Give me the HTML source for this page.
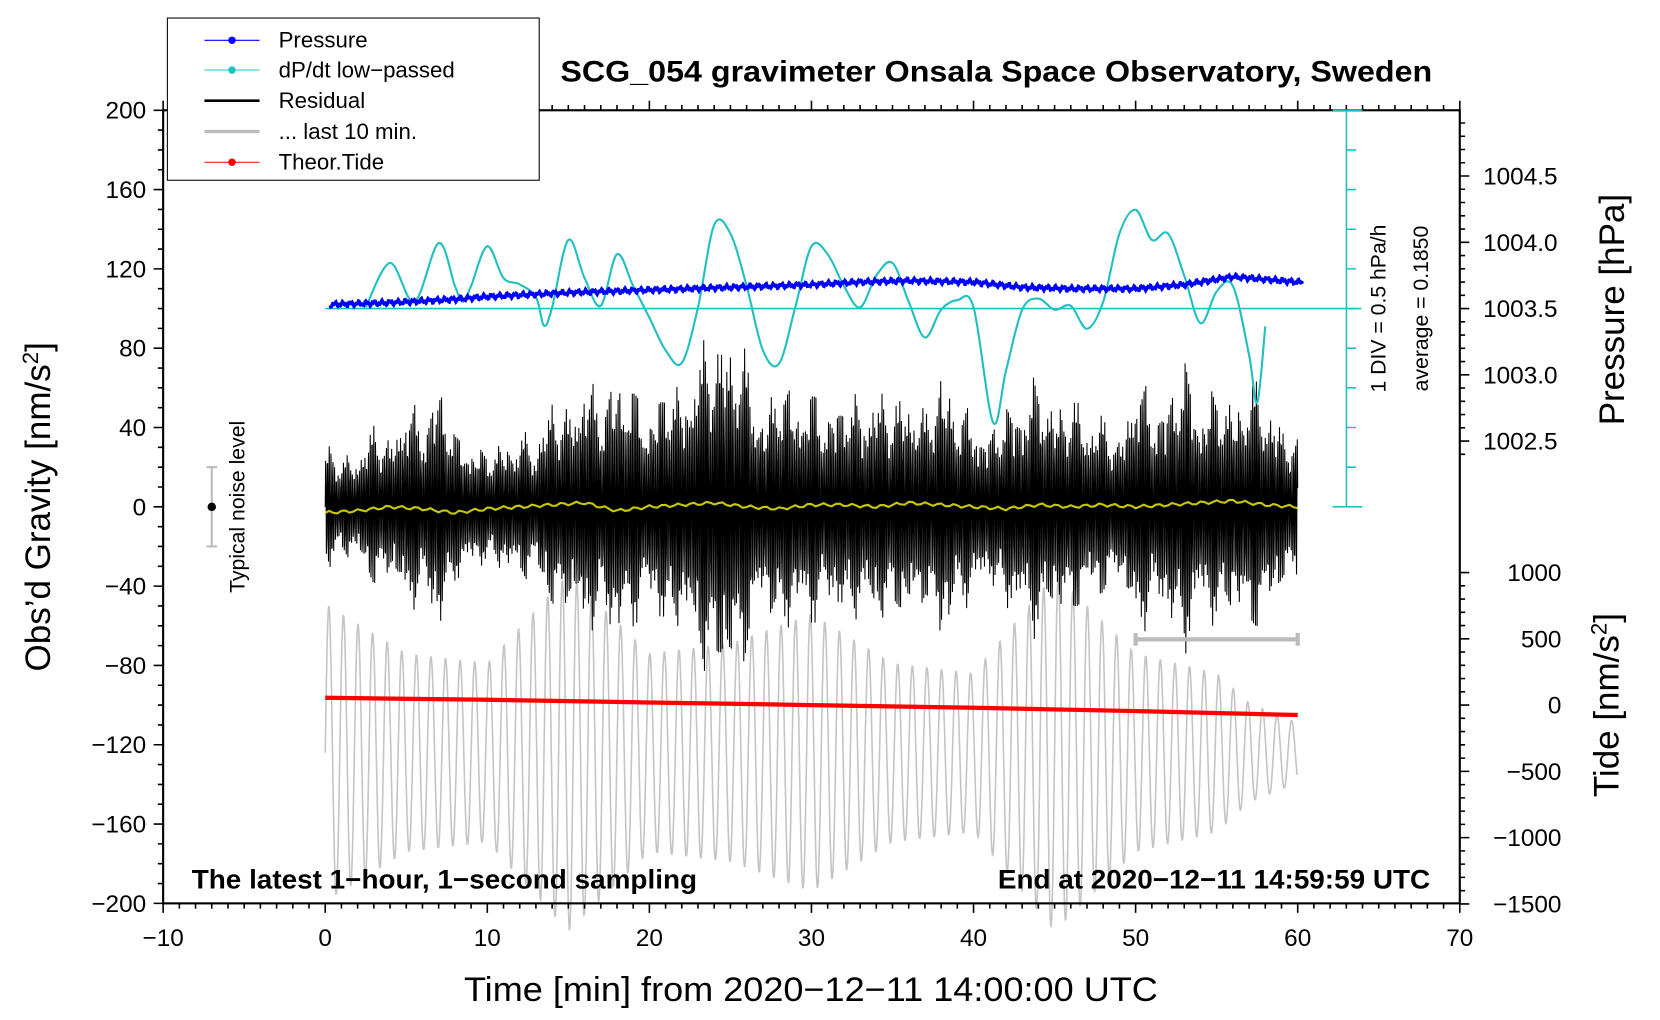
<!DOCTYPE html>
<html><head><meta charset="utf-8"><style>
html,body{margin:0;padding:0;background:#fff}
svg{display:block}
text{font-family:"Liberation Sans",sans-serif}
</style></head><body>
<svg id="chart" width="1660" height="1020" viewBox="0 0 1567 962" preserveAspectRatio="none" xmlns="http://www.w3.org/2000/svg" style="position:absolute;left:0;top:0">
<g id="layer-bg"></g>
<g id="layer-data"></g>
<g id="layer-axes"></g>
</svg>
<script>
// ---- data ----
const pressMin=[0,3,5,8,10,15,20,25,30,33,36,40,43,46,50,53,56,58,60];
const pressVal=[1003.53,1003.54,1003.55,1003.57,1003.59,1003.62,1003.64,1003.66,1003.68,1003.70,1003.71,1003.70,1003.66,1003.65,1003.65,1003.68,1003.74,1003.72,1003.70];
const dpMin=[2.5,4,5.5,7,8,8.5,9,10,11,12,13,13.5,14,15,16,17,18,19,20,21,22,23,24,25,26,27,28,29,30,31,32,33,34,35,36,37,38,39,40,41.2,42,43,44,45,46,47,48,49,50,51,52,53,54,55,56,57,57.5,58];
const dpVal=[0.2,0.76,0.27,1.01,0.47,0.27,0.47,0.97,0.57,0.49,0.33,-0.03,0.2,1.05,0.57,0.22,0.87,0.47,0.07,-0.34,-0.5,0.2,1.24,1.13,0.47,-0.34,-0.51,0.2,0.97,0.87,0.47,0.2,0.6,0.76,0.27,-0.18,0.17,0.29,0.2,-1.25,-0.6,0.17,0.31,0.17,0.22,-0.07,0.27,1.13,1.43,1.05,1.13,0.6,0.0,0.4,0.47,-0.4,-1.0,-0.04];
const resAmp=[40,25,30,45,35,60,45,70,40,35,30,35,40,35,60,50,75,55,75,65,50,70,60,85,90,95,80,50,70,60,65,50,65,55,65,55,65,50,75,55,50,40,55,60,70,55,60,50,50,35,75,55,60,80,55,65,55,70,60,45,35];
const trendMin=[0,2,4,6,8,10,12,14,16,18,20,22,24,26,28,30,32,34,36,38,40,42,44,46,48,50,52,54,56,58,60];
const trendVal=[-3,-2,0,-1,-3,-1,0,1,2,-2,0,1,2,0,-1,1,1,0,2,1,0,-1,1,0,1,0,1,2,3,1,0];
const grayMin=[0,5,10,15,20,25,30,35,40,45,50,55,57,60];
const grayAmp=[75,50,45,90,50,55,70,45,40,90,50,40,25,15];
const tideMin=[0,10,20,30,40,50,60];
const tideVal=[55,40,20,0,-20,-45,-75];
const xTicks=[-10,0,10,20,30,40,50,60,70];
const gTicks=[200,160,120,80,40,0,-40,-80,-120,-160,-200];
const pTicks=[1004.5,1004.0,1003.5,1003.0,1002.5];
const tTicks=[1000,500,0,-500,-1000,-1500];
// ---- scales ----
const L=154,R=1378,T=104,B=852;
const X=m=>L+(m+10)*(R-L)/80;
const G=v=>478-v*1.87;
const P=v=>291-(v-1003.5)*125;
const TD=v=>665-v*0.125;
const DP=v=>291-(v-0.185)/0.5*37.4;
const NS="http://www.w3.org/2000/svg";
function mk(tag,attrs,parent,name,inter){const e=document.createElementNS(NS,tag);for(const k in attrs)e.setAttribute(k,attrs[k]);


parent.appendChild(e);return e;}
function interp(xs,ys,x){if(x<=xs[0])return ys[0];for(let i=1;i<xs.length;i++){if(x<=xs[i]){const f=(x-xs[i-1])/(xs[i]-xs[i-1]);return ys[i-1]+f*(ys[i]-ys[i-1]);}}return ys[ys.length-1];}
const data=document.getElementById('layer-data');
const axes=document.getElementById('layer-axes');
let d='';for(let t=0;t<=60;t+=0.03){const a=interp(grayMin,grayAmp,t);const v=-124+a*Math.sin(2*Math.PI*t/0.9);d+=(d?'L':'M')+X(t).toFixed(1)+','+Math.max(G(v),0).toFixed(1);}
mk('path',{d:d,fill:'none',stroke:'#c4c4c4','stroke-width':1.5},data,'last-10-min-series');
d='';for(let t=0;t<=60;t+=0.025){const a=interp(resAmp.map((_,i)=>i),resAmp,t);const m=Math.abs(Math.sin(2*Math.PI*t/1.7)*Math.cos(t*2.3));const v=a*Math.sin(2*Math.PI*t/0.11)*(0.55+0.45*m);d+=(d?'L':'M')+X(t).toFixed(1)+','+G(v).toFixed(1);}
mk('path',{d:d,fill:'none',stroke:'#000','stroke-width':1},data,'residual-series');
d='';for(let t=0;t<=60;t+=0.25){d+=(d?'L':'M')+X(t).toFixed(1)+','+G(interp(trendMin,trendVal,t)+0.8*Math.sin(t*7)).toFixed(1);}
mk('path',{d:d,fill:'none',stroke:'#c8c800','stroke-width':2},data,'residual-smoothed');
d='';tideMin.forEach((m,i)=>{d+=(i?'L':'M')+X(m)+','+TD(tideVal[i]);});
mk('path',{d:d,fill:'none',stroke:'#f00','stroke-width':4},data,'theoretical-tide');
mk('line',{x1:X(0),x2:1285,y1:291,y2:291,stroke:'#20c0c0','stroke-width':1.5},data,'dpdt-average-line');
const pts=dpMin.map((m,i)=>[X(m),DP(dpVal[i])]);
d='M'+pts[0][0]+','+pts[0][1];
for(let i=0;i<pts.length-1;i++){const p0=pts[Math.max(i-1,0)],p1=pts[i],p2=pts[i+1],p3=pts[Math.min(i+2,pts.length-1)];
d+='C'+(p1[0]+(p2[0]-p0[0])/6).toFixed(1)+','+(p1[1]+(p2[1]-p0[1])/6).toFixed(1)+' '+(p2[0]-(p3[0]-p1[0])/6).toFixed(1)+','+(p2[1]-(p3[1]-p1[1])/6).toFixed(1)+' '+p2[0].toFixed(1)+','+p2[1].toFixed(1);}
mk('path',{d:d,fill:'none',stroke:'#20c0c0','stroke-width':2},data,'dpdt-series');
d='';for(let t=0.3;t<=60.3;t+=0.04){const v=interp(pressMin,pressVal,t)+0.012*Math.sin(t*13)+0.01*Math.sin(t*31);d+=(d?'L':'M')+X(t).toFixed(1)+','+P(v).toFixed(1);}
mk('path',{d:d,fill:'none',stroke:'#0000ff','stroke-width':3},data,'pressure-series');
mk('path',{d:`M${X(50)},${603}H${X(60)}M${X(50)},597V609M${X(60)},597V609`,stroke:'#bbb','stroke-width':4,fill:'none'},data,'last-10-min-marker');
mk('path',{d:`M${X(-7)},${G(20)}V${G(-20)}M${X(-7)-5},${G(20)}H${X(-7)+5}M${X(-7)-5},${G(-20)}H${X(-7)+5}`,stroke:'#bbb','stroke-width':2,fill:'none'},data,'noise-bar');
mk('circle',{cx:X(-7),cy:G(0),r:4,fill:'#000'},data,'noise-dot');
mk('rect',{x:L,y:T,width:R-L,height:B-T,fill:'none',stroke:'#000','stroke-width':2},axes,'plot-frame');
let td='';for(let m=-10;m<=70;m++){const len=m%10===0?9:5;td+=`M${X(m)},${B}V${B+len}M${X(m)},${T}V${T-len}`;}
mk('path',{d:td,stroke:'#000','stroke-width':1.5},axes,'x-ticks');
xTicks.forEach(m=>{const t=mk('text',{x:X(m),y:B+40,'font-size':23,'text-anchor':'middle'},axes,'x-tick-label');t.textContent=(m<0?'\u2212':'')+Math.abs(m);});
td='';for(let v=-200;v<=200;v+=10){td+=`M${L},${G(v)}H${L-(v%40===0?9:5)}`;}
mk('path',{d:td,stroke:'#000','stroke-width':1.5},axes,'y-ticks');
gTicks.forEach(v=>{const t=mk('text',{x:L-16,y:G(v)+8,'font-size':23,'text-anchor':'end'},axes,'y-tick-label');t.textContent=(v<0?'\u2212':'')+Math.abs(v);});
td='';for(let v=1004.9;v>=1002.3;v-=0.1){const y=P(v);if(y>T&&y<478)td+=`M${R},${y}H${R+5}`;}
pTicks.forEach(v=>{td+=`M${R},${P(v)}H${R+9}`;});
for(let v=-1500;v<=1000;v+=100){td+=`M${R},${TD(v)}H${R+(v%500===0?9:5)}`;}
mk('path',{d:td,stroke:'#000','stroke-width':1.5},axes,'right-ticks');
pTicks.forEach(v=>{const t=mk('text',{x:R+22,y:P(v)+8,'font-size':23},axes,'pressure-tick-label');t.textContent=v.toFixed(1);});
tTicks.forEach(v=>{const t=mk('text',{x:1474,y:TD(v)+8,'font-size':23,'text-anchor':'end'},axes,'tide-tick-label');t.textContent=(v<0?'\u2212':'')+Math.abs(v);});
td=`M1271,${T}V478M1258,478H1286M1258,${T}H1286`;for(let k=1;k<10;k++)td+=`M1271,${T+k*37.4}H1280`;
mk('path',{d:td,stroke:'#20c0c0','stroke-width':1.5,fill:'none'},axes,'dpdt-scale-axis');
</script>
<svg style="position:absolute;left:0;top:0" width="1660" height="1020" viewBox="0 0 1567 962" preserveAspectRatio="none" xmlns="http://www.w3.org/2000/svg">
<text x="529" y="77" font-size="28" font-weight="bold" textLength="823" lengthAdjust="spacingAndGlyphs">SCG_054 gravimeter Onsala Space Observatory, Sweden</text>
<text x="438" y="944" font-size="32" textLength="655" lengthAdjust="spacingAndGlyphs">Time [min] from 2020−12−11 14:00:00 UTC</text>
<text transform="translate(47,478) rotate(-90)" font-size="33" text-anchor="middle">Obs’d Gravity [nm/s<tspan baseline-shift="super" font-size="21">2</tspan>]</text>
<text transform="translate(1533,292) rotate(-90)" font-size="33" text-anchor="middle">Pressure [hPa]</text>
<text transform="translate(1528,665) rotate(-90)" font-size="33" text-anchor="middle">Tide [nm/s<tspan baseline-shift="super" font-size="21">2</tspan>]</text>
<text transform="translate(1308,291) rotate(-90)" font-size="20" text-anchor="middle">1 DIV = 0.5 hPa/h</text>
<text transform="translate(1348,291) rotate(-90)" font-size="20" text-anchor="middle">average = 0.1850</text>
<text transform="translate(231,478) rotate(-90)" font-size="20" text-anchor="middle">Typical noise level</text>
<text x="181" y="838" font-size="25" font-weight="bold" textLength="477" lengthAdjust="spacingAndGlyphs">The latest 1−hour, 1−second sampling</text>
<text x="942" y="838" font-size="25" font-weight="bold" textLength="408" lengthAdjust="spacingAndGlyphs">End at 2020−12−11 14:59:59 UTC</text>
<g>
<rect x="158" y="17" width="351" height="153" fill="#fff" stroke="#000" stroke-width="1"/>
<line x1="193" x2="245" y1="38" y2="38" stroke="#00f" stroke-width="1"/><circle cx="219" cy="38" r="3.5" fill="#00f"/>
<text x="263" y="45" font-size="21">Pressure</text>
<line x1="193" x2="245" y1="66" y2="66" stroke="#20c0c0" stroke-width="1"/><circle cx="219" cy="66" r="3.5" fill="#20c0c0"/>
<text x="263" y="73" font-size="21">dP/dt low−passed</text>
<line x1="193" x2="245" y1="95" y2="95" stroke="#000" stroke-width="2.5"/>
<text x="263" y="102" font-size="21">Residual</text>
<line x1="193" x2="245" y1="124" y2="124" stroke="#bbb" stroke-width="3"/>
<text x="263" y="131" font-size="21">... last 10 min.</text>
<line x1="193" x2="245" y1="153" y2="153" stroke="#f00" stroke-width="1"/><circle cx="219" cy="153" r="3.5" fill="#f00"/>
<text x="263" y="160" font-size="21">Theor.Tide</text>
</g>
</svg>
</body></html>
